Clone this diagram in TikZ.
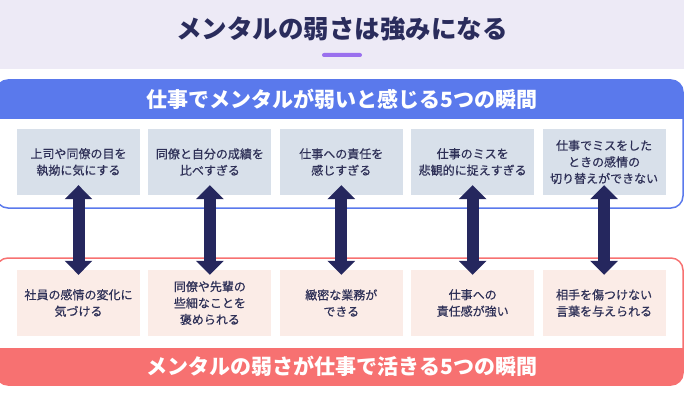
\documentclass[tikz,border=0pt]{standalone}
\usepackage{fontspec}
\setmainfont{Noto Sans CJK JP}
\newfontfamily\jpmid{Noto Sans CJK JP}[FakeBold=0.5]
\usetikzlibrary{positioning,arrows.meta}
\definecolor{lavender}{HTML}{EDEAF6}
\definecolor{violet}{HTML}{9A70EE}
\definecolor{titleink}{HTML}{2A2C5C}
\definecolor{weakblue}{HTML}{5A79EC}
\definecolor{strongred}{HTML}{F77171}
\definecolor{worrybg}{HTML}{D8E0EA}
\definecolor{strengthbg}{HTML}{FBECE7}
\definecolor{boxink}{HTML}{2E3057}
\definecolor{navy}{HTML}{25275E}
\begin{document}
\begin{tikzpicture}
[
    x=1pt, y=-1pt,
    worry/.style={fill=worrybg, text=boxink, minimum width=123pt, minimum height=66pt, inner sep=0pt, align=center, font=\jpmid\fontsize{12}{16.5}\selectfont},
    strength/.style={worry, fill=strengthbg},
    heading/.style={text=white, font=\fontsize{21}{21}\selectfont\bfseries},
    both ways/.style={draw=navy, line width=12pt, {Triangle[width=27pt,length=14pt]}-{Triangle[width=27pt,length=14pt]}}
]
    \useasboundingbox (0,0) rectangle (684,393);
    \fill[lavender] (0,0) rectangle (684,69);
    \node (title) at (342,29) [text=titleink, font=\fontsize{25.5}{25.5}\selectfont\bfseries] {メンタルの弱さは強みになる};
    \fill[violet, rounded corners=2pt] (322,53) rectangle (362,57);

    \draw[weakblue, line width=1.5pt, rounded corners=12pt] (-4,80) rectangle (683,208);
    \begin{scope}
        \clip (-10,70) rectangle (700,118);
        \fill[weakblue, rounded corners=12pt] (-4,80) rectangle (683,208);
    \end{scope}
    \node (weakhead) at (342,99) [heading] {仕事でメンタルが弱いと感じる5つの瞬間};

    \draw[strongred, line width=1.5pt, rounded corners=12pt] (-4,258) rectangle (683,385);
    \begin{scope}
        \clip (-10,348) rectangle (700,400);
        \fill[strongred, rounded corners=12pt] (-4,258) rectangle (683,385);
    \end{scope}
    \node (stronghead) at (342,366) [heading] {メンタルの弱さが仕事で活きる5つの瞬間};

    \node (t1) at (78.5,162) [worry] {上司や同僚の目を\\執拗に気にする};
    \node (t2) [worry, right=8pt of t1] {同僚と自分の成績を\\比べすぎる};
    \node (t3) [worry, right=8pt of t2] {仕事への責任を\\感じすぎる};
    \node (t4) [worry, right=8pt of t3] {仕事のミスを\\悲観的に捉えすぎる};
    \node (t5) [worry, right=8pt of t4] {仕事でミスをした\\ときの感情の\\切り替えができない};

    \node (b1) at (78.5,303) [strength] {社員の感情の変化に\\気づける};
    \node (b2) [strength, right=8pt of b1] {同僚や先輩の\\些細なことを\\褒められる};
    \node (b3) [strength, right=8pt of b2] {緻密な業務が\\できる};
    \node (b4) [strength, right=8pt of b3] {仕事への\\責任感が強い};
    \node (b5) [strength, right=8pt of b4] {相手を傷つけない\\言葉を与えられる};

    \draw[both ways] ([yshift=10pt]t1.south) -- ([yshift=-5pt]b1.north);
    \draw[both ways] ([yshift=10pt]t2.south) -- ([yshift=-5pt]b2.north);
    \draw[both ways] ([yshift=10pt]t3.south) -- ([yshift=-5pt]b3.north);
    \draw[both ways] ([yshift=10pt]t4.south) -- ([yshift=-5pt]b4.north);
    \draw[both ways] ([yshift=10pt]t5.south) -- ([yshift=-5pt]b5.north);
\end{tikzpicture}
\end{document}
